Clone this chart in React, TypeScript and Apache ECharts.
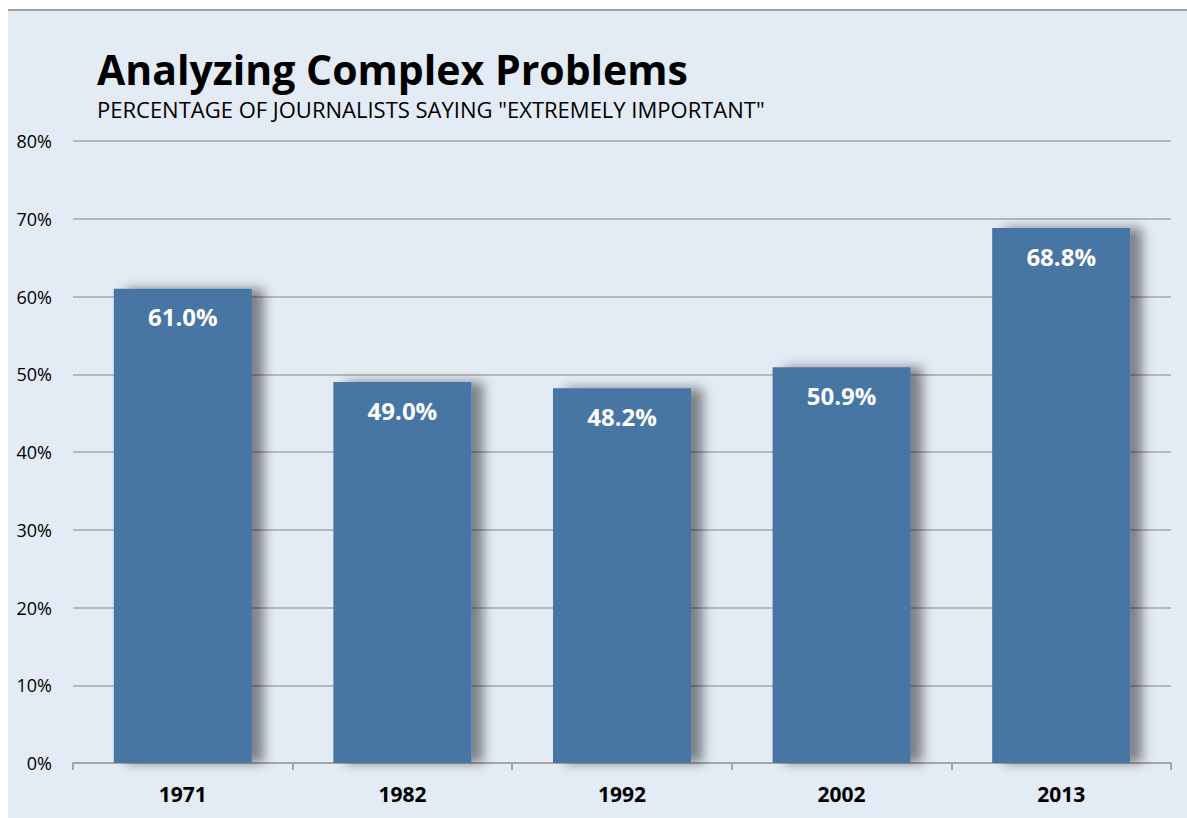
import React, { useEffect, useRef } from "react";
import * as echarts from "echarts";

const categories = ["1971", "1982", "1992", "2002", "2013"];
const values = [61.0, 49.0, 48.2, 50.9, 68.8];
const yTicks = [0, 10, 20, 30, 40, 50, 60, 70, 80];

const FONT = "'Open Sans', 'Noto Sans', sans-serif";

export default function App() {
  const ref = useRef<HTMLDivElement>(null);
  useEffect(() => {
    const chart = echarts.init(ref.current!, null, { renderer: "svg" });
    chart.setOption({
      animation: false,
      backgroundColor: "#ffffff",
      graphic: [
        {
          type: "rect",
          z: -10,
          shape: { x: 8, y: 10, width: 1179, height: 808 },
          style: { fill: "#E3EBF5" },
          silent: true,
        },
        {
          type: "line",
          z: -9,
          shape: { x1: 8, y1: 10, x2: 1187, y2: 10 },
          style: { stroke: "#A0A0A0", lineWidth: 2 },
          silent: true,
        },
        {
          type: "text",
          left: 97,
          top: 48,
          style: {
            text: "Analyzing Complex Problems",
            font: `bold 41px ${FONT}`,
            fill: "#000000",
          },
        },
        {
          type: "text",
          left: 97,
          top: 98,
          style: {
            text: 'PERCENTAGE OF JOURNALISTS SAYING "EXTREMELY IMPORTANT"',
            font: `22px ${FONT}`,
            fill: "#000000",
          },
        },
      ],
      grid: { left: 73, right: 16, top: 141, bottom: 55, containLabel: false },
      xAxis: {
        type: "category",
        data: categories,
        axisLine: { lineStyle: { color: "#A6A6A6", width: 2 } },
        axisTick: { show: true, length: 7, lineStyle: { color: "#A6A6A6", width: 2 } },
        axisLabel: {
          color: "#000000",
          fontFamily: FONT,
          fontWeight: "bold",
          fontSize: 21,
          margin: 20,
        },
      },
      yAxis: {
        type: "value",
        min: yTicks[0],
        max: yTicks[yTicks.length - 1],
        interval: 10,
        axisLine: { show: false },
        axisTick: { show: false },
        axisLabel: {
          formatter: "{value}%",
          color: "#000000",
          fontFamily: FONT,
          fontSize: 18,
          margin: 21,
        },
        splitLine: { lineStyle: { color: "#A6A6A6", width: 1.5 } },
      },
      series: [
        {
          type: "bar",
          data: values,
          barWidth: 138,
          itemStyle: {
            color: "#4674A4",
            shadowColor: "rgba(0,0,0,0.45)",
            shadowBlur: 12,
            shadowOffsetX: 12,
            shadowOffsetY: 0,
          },
          label: {
            show: true,
            position: "insideTop",
            distance: 16,
            formatter: (p: any) => p.value.toFixed(1) + "%",
            color: "#ffffff",
            fontFamily: FONT,
            fontWeight: "bold",
            fontSize: 24,
          },
        },
      ],
    });
    return () => chart.dispose();
  }, []);
  return (
    <div
      ref={ref}
      style={{ position: "fixed", left: 0, top: 0, width: 1187, height: 818 }}
    />
  );
}
